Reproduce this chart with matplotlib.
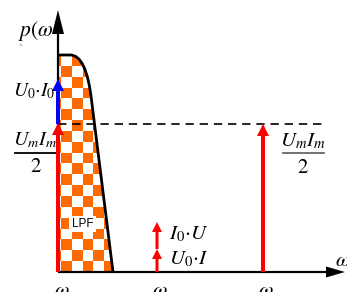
import numpy as np
import matplotlib
matplotlib.use("Agg")
import matplotlib.pyplot as plt
from matplotlib.path import Path
from matplotlib.patches import PathPatch

plt.rcParams['mathtext.fontset'] = 'stix'
plt.rcParams['font.family'] = ['STIXGeneral', 'DejaVu Serif']

# diagram space is in pixels (y grows downward)
W, H = 347, 292
origin = (58, 272)
x_end = 345
y_top = 10
dash_level = 124

# spectral lines: (x, base, tip, colour)
line_x = [58, 58, 263, 157, 157]
line_base = [272, 124, 272, 272, 249]
line_tip = [123, 79, 124, 249, 222]
line_color = ['#ff0000', '#0000ff', '#ff0000', '#ff0000', '#ff0000']
line_width = [4, 4, 4, 3, 3]

# low-pass filter outline
lpf_top = 55
lpf_corner = [(70, 55), (81, 55), (88, 70), (91.5, 100)]
lpf_foot = (113, 272)
checker = 10.85

fig = plt.figure(figsize=(W / 100, H / 100), dpi=100)
ax = fig.add_axes([0, 0, 1, 1])
ax.set_xlim(0, W)
ax.set_ylim(H, 0)
ax.axis('off')

verts = [(origin[0], lpf_top)] + lpf_corner + [lpf_foot, origin, origin]
codes = [Path.MOVETO, Path.LINETO, Path.CURVE4, Path.CURVE4, Path.CURVE4,
         Path.LINETO, Path.LINETO, Path.CLOSEPOLY]
lpf_path = Path(verts, codes)
clip = PathPatch(lpf_path, facecolor='none', edgecolor='none', transform=ax.transData)
ax.add_patch(clip)

x0, y0 = 61 - checker, lpf_top
nx, ny = 7, 20
ii, jj = np.meshgrid(np.arange(nx), np.arange(ny))
board = (ii + jj) % 2
im = ax.imshow(board, cmap=matplotlib.colors.ListedColormap(['#ff6a00', 'white']),
               extent=[x0, x0 + nx * checker, y0 + ny * checker, y0],
               interpolation='nearest', zorder=1)
im.set_clip_path(clip)

# outline (top and right side only)
out = Path(verts[:6], codes[:6])
ax.add_patch(PathPatch(out, facecolor='none', edgecolor='black', lw=2, zorder=3))

# dashed level
ax.plot([origin[0], 325], [dash_level, dash_level], color='black', lw=1.2,
        dashes=(5, 3.5), zorder=2)

# axes
ax.arrow(origin[0], origin[1], x_end - origin[0], 0, width=2.2, head_width=11,
         head_length=19, length_includes_head=True, color='black', lw=0, zorder=4)
ax.arrow(origin[0], origin[1], 0, y_top - origin[1], width=2.2, head_width=12,
         head_length=24, length_includes_head=True, color='black', lw=0, zorder=4)

for x, b, t, c, w in zip(line_x, line_base, line_tip, line_color, line_width):
    hl = 12 if w == 4 else 10
    hw = 12 if w == 4 else 10
    ax.arrow(x, b, 0, t - b, width=w, head_width=hw, head_length=hl,
             length_includes_head=True, color=c, lw=0, zorder=5)

fs = 15
ax.text(18, 36, r'$p(\omega$', fontsize=15.5, ha='left', va='baseline', zorder=3)
ax.text(21, 49, '`', fontsize=7, color='#555555', ha='center', va='center')
ax.text(55, 91, r'$U_0{\cdot}I_0$', fontsize=14, ha='right', va='center', zorder=6)
ax.text(35, 140, r'$U_mI_m$', fontsize=14.5, ha='center', va='center')
ax.plot([15, 57], [153, 153], color='black', lw=1.3)
ax.text(36, 167, r'$2$', fontsize=fs, ha='center', va='center')
ax.text(303, 141, r'$U_mI_m$', fontsize=fs, ha='center', va='center')
ax.plot([283, 324], [153, 153], color='#666666', lw=1.3)
ax.text(303, 168, r'$2$', fontsize=fs, ha='center', va='center')
ax.text(169, 234, r'$I_0{\cdot}U$', fontsize=fs, ha='left', va='center')
ax.text(169, 259, r'$U_0{\cdot}I$', fontsize=fs, ha='left', va='center')
ax.text(82.5, 224, 'LPF', fontsize=8.5, family='Liberation Sans', ha='center',
        va='center', zorder=6,
        bbox=dict(boxstyle='square,pad=0.2', fc='white', ec='none'))

for x in [62, 160, 266]:
    ax.text(x, 281, r'$\omega$', fontsize=fs, ha='center', va='top')
ax.text(335, 261, r'$\omega$', fontsize=fs, ha='left', va='center')

fig.savefig('out.png', dpi=100)
